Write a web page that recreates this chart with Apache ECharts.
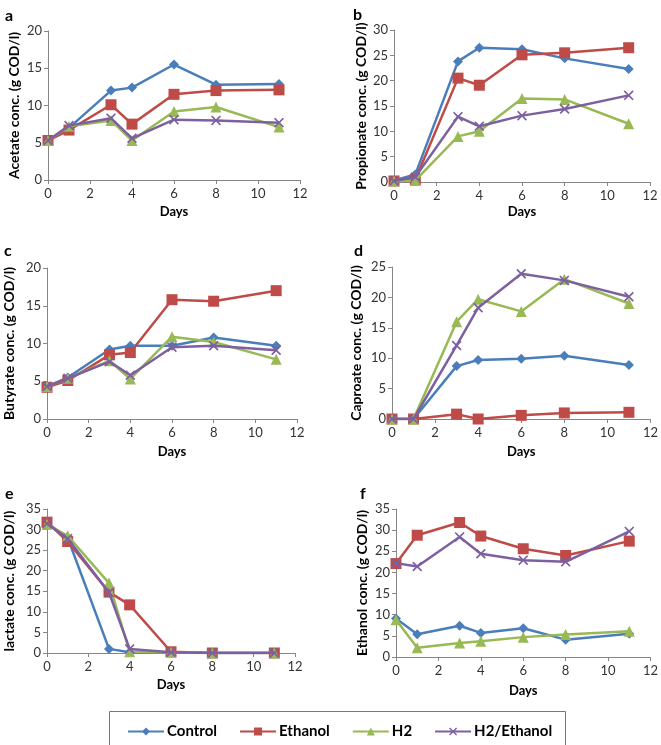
<!DOCTYPE html>
<html>
<head>
<meta charset="utf-8">
<script src="https://cdn.jsdelivr.net/npm/echarts@6/dist/echarts.min.js"></script>
<style>
html,body{margin:0;padding:0;background:#fff;}
#chart{width:661px;height:745px;}
</style>
</head>
<body>
<div id="chart"></div>
<script>
const days = [0, 1, 3, 4, 6, 8, 11];
const seriesNames = ['Control', 'Ethanol', 'H2', 'H2/Ethanol'];
const xTicks = [0, 2, 4, 6, 8, 10, 12];

// a: Acetate
const acetateControl = [5.3, 7.0, 12.0, 12.4, 15.5, 12.8, 12.9];
const acetateEthanol = [5.3, 6.7, 10.1, 7.5, 11.5, 12.0, 12.1];
const acetateH2 = [5.3, 7.2, 8.0, 5.3, 9.2, 9.8, 7.1];
const acetateH2Ethanol = [5.3, 7.3, 8.3, 5.6, 8.1, 8.0, 7.7];
// b: Propionate
const propionateControl = [0.3, 1.5, 23.8, 26.5, 26.2, 24.4, 22.3];
const propionateEthanol = [0.2, 0.5, 20.5, 19.1, 25.1, 25.5, 26.5];
const propionateH2 = [0.2, 0.3, 9.0, 10.0, 16.5, 16.3, 11.5];
const propionateH2Ethanol = [0.2, 1.0, 12.9, 11.0, 13.1, 14.4, 17.1];
// c: Butyrate
const butyrateControl = [4.3, 5.5, 9.2, 9.7, 9.7, 10.8, 9.7];
const butyrateEthanol = [4.2, 5.1, 8.5, 8.8, 15.8, 15.6, 17.0];
const butyrateH2 = [4.3, 5.4, 7.7, 5.3, 10.9, 10.2, 7.9];
const butyrateH2Ethanol = [4.3, 5.4, 7.6, 5.8, 9.5, 9.7, 9.1];
// d: Caproate
const caproateControl = [0, 0, 8.7, 9.7, 9.9, 10.4, 8.9];
const caproateEthanol = [0, 0, 0.8, 0, 0.6, 1.0, 1.1];
const caproateH2 = [0, 0, 16.0, 19.7, 17.7, 23.0, 19.0];
const caproateH2Ethanol = [0, 0, 12.1, 18.3, 23.9, 22.8, 20.1];
// e: Lactate
const lactateControl = [31.6, 28.0, 1.0, 0.2, 0.1, 0, 0];
const lactateEthanol = [31.8, 27.1, 14.8, 11.7, 0.3, 0, 0];
const lactateH2 = [31.3, 28.5, 17.0, 0.3, 0.2, 0, 0];
const lactateH2Ethanol = [31.5, 27.8, 14.7, 1.0, 0.2, 0, 0];
// f: Ethanol
const ethanolControl = [9.1, 5.4, 7.4, 5.7, 6.8, 4.1, 5.5];
const ethanolEthanol = [22.1, 28.8, 31.8, 28.6, 25.6, 24.0, 27.4];
const ethanolH2 = [8.8, 2.2, 3.3, 3.7, 4.7, 5.3, 6.1];
const ethanolH2Ethanol = [22.2, 21.4, 28.4, 24.4, 22.9, 22.5, 29.7];

const panels = [
  {letter: 'a', yName: 'Acetate conc. (g COD/l)', yMax: 20, data: [acetateControl, acetateEthanol, acetateH2, acetateH2Ethanol]},
  {letter: 'b', yName: 'Propionate conc. (g COD/l)', yMax: 30, data: [propionateControl, propionateEthanol, propionateH2, propionateH2Ethanol]},
  {letter: 'c', yName: 'Butyrate conc. (g COD/l)', yMax: 20, data: [butyrateControl, butyrateEthanol, butyrateH2, butyrateH2Ethanol]},
  {letter: 'd', yName: 'Caproate conc. (g COD/l)', yMax: 25, data: [caproateControl, caproateEthanol, caproateH2, caproateH2Ethanol]},
  {letter: 'e', yName: 'lactate conc. (g COD/l)', yMax: 35, data: [lactateControl, lactateEthanol, lactateH2, lactateH2Ethanol]},
  {letter: 'f', yName: 'Ethanol conc. (g COD/l)', yMax: 35, data: [ethanolControl, ethanolEthanol, ethanolH2, ethanolH2Ethanol]}
];

// layout (pixels)
const grids = [
  {left: 48, top: 31, width: 252, height: 149, yGap: 27, xGap: 25, lx: 5, ly: 8},
  {left: 394, top: 30, width: 256, height: 152, yGap: 26, xGap: 23, lx: 353, ly: 7},
  {left: 47, top: 268, width: 250, height: 151, yGap: 31, xGap: 26, lx: 4, ly: 243},
  {left: 392, top: 267, width: 260, height: 152, yGap: 29, xGap: 26, lx: 354, ly: 243},
  {left: 47, top: 509, width: 248, height: 144, yGap: 31, xGap: 25, lx: 5, ly: 486},
  {left: 396, top: 509, width: 257, height: 148, yGap: 27, xGap: 27, lx: 360, ly: 486}
];

const colors = ['#4A7EBB', '#BE4B48', '#98B954', '#7D60A0'];
const crossPath = 'path://M0,1.2 L1.2,0 L5,3.8 L8.8,0 L10,1.2 L6.2,5 L10,8.8 L8.8,10 L5,6.2 L1.2,10 L0,8.8 L3.8,5 Z';
const symbols = ['diamond', 'rect', 'triangle', crossPath];
const symbolSizes = [10, 11, 11, 10];
const FONT = 'Lato, "Open Sans", sans-serif';

const option = {
  animation: false,
  backgroundColor: '#fff',
  textStyle: {fontFamily: FONT},
  grid: [], xAxis: [], yAxis: [], series: [],
  legend: {
    data: seriesNames,
    left: 122, top: 719,
    itemWidth: 36, itemHeight: 10, itemGap: 22,
    textStyle: {fontFamily: FONT, fontWeight: 'bold', fontSize: 15, color: '#000', padding: [0, 0, 0, -2]},
    selectedMode: false
  },
  graphic: []
};

option.graphic.push({
  type: 'rect', left: 107, top: 709, z: -1,
  shape: {width: 456, height: 34},
  style: {fill: 'none', stroke: '#777', lineWidth: 1}
});

panels.forEach((p, i) => {
  const g = grids[i];
  option.grid.push({left: g.left, top: g.top, width: g.width, height: g.height, containLabel: false});
  option.xAxis.push({
    type: 'value', gridIndex: i, min: 0, max: 12, interval: 2,
    name: 'Days', nameLocation: 'middle', nameGap: g.xGap,
    nameTextStyle: {fontFamily: FONT, fontWeight: 'bold', fontSize: 13, color: '#000'},
    axisLine: {show: true, onZero: false, lineStyle: {color: '#868686', width: 1}},
    axisTick: {show: true, length: 4, lineStyle: {color: '#868686'}},
    axisLabel: {fontFamily: FONT, fontSize: 13, color: '#333', margin: 7,
      formatter: v => xTicks.includes(v) ? String(v) : ''},
    splitLine: {show: false}
  });
  option.yAxis.push({
    type: 'value', gridIndex: i, min: 0, max: p.yMax, interval: 5,
    name: p.yName, nameLocation: 'middle', nameGap: g.yGap,
    nameTextStyle: {fontFamily: FONT, fontWeight: 'bold', fontSize: 14, color: '#000'},
    axisLine: {show: true, lineStyle: {color: '#868686', width: 1}},
    axisTick: {show: true, length: 4, lineStyle: {color: '#868686'}},
    axisLabel: {fontFamily: FONT, fontSize: 13, color: '#333', margin: 6},
    splitLine: {show: false}
  });
  option.graphic.push({
    type: 'text', left: g.lx, top: g.ly,
    style: {text: p.letter, font: 'bold 16px ' + FONT, fill: '#000'}
  });
  p.data.forEach((vals, s) => {
    option.series.push({
      name: seriesNames[s], type: 'line',
      xAxisIndex: i, yAxisIndex: i,
      data: days.map((d, k) => [d, vals[k]]),
      symbol: symbols[s], symbolSize: symbolSizes[s],
      lineStyle: {color: colors[s], width: 2.5},
      itemStyle: {color: colors[s]},
      z: 2 + s
    });
  });
});

const chart = echarts.init(document.getElementById('chart'), null, {renderer: 'canvas'});
chart.setOption(option);
</script>
</body>
</html>
